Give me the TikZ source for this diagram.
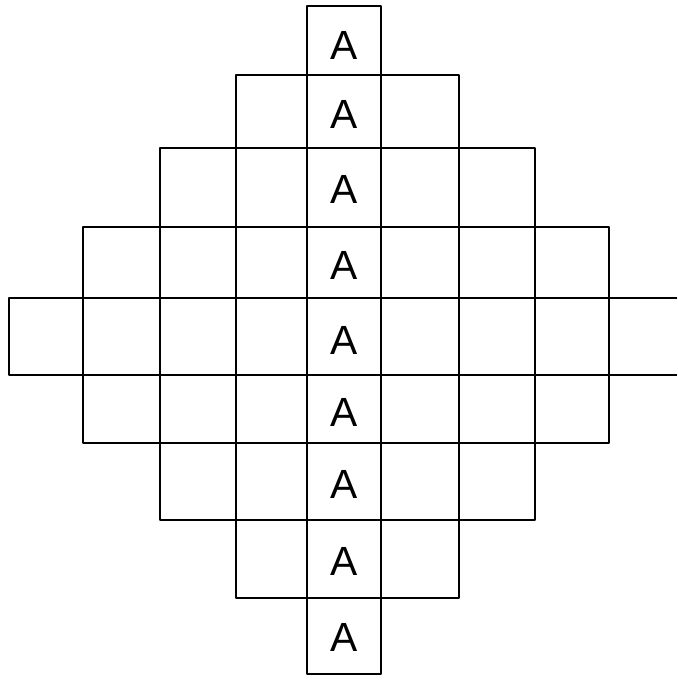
\documentclass[tikz,border=0pt]{standalone}
\usepackage{fontspec}
\setmainfont{Liberation Sans}
\usetikzlibrary{positioning}

\begin{document}
\begin{tikzpicture}[
    x=0.025cm, y=-0.025cm,
    gridline/.style={draw=black, line width=2pt, line join=round},
    letter/.style={font=\fontsize{29}{29}\selectfont, inner sep=0pt},
  ]
    \useasboundingbox (0,0) rectangle (677,682);

    % centre column
    \draw[gridline] (307,6) rectangle (381,674);
    % nested rows of the diamond
    \draw[gridline] (236,75) rectangle (459,598);
    \draw[gridline] (160,148) rectangle (535,520);
    \draw[gridline] (83,227) rectangle (609,443);
    % middle band, open at the right edge
    \draw[gridline] (677,298) -- (9,298) -- (9,375) -- (677,375);

    \node[letter] (a1) at (344,45) {A};
    \node[letter] (a2) at (344,114) {A};
    \node[letter] (a3) at (344,189) {A};
    \node[letter] (a4) at (344,265) {A};
    \node[letter] (a5) at (344,340) {A};
    \node[letter] (a6) at (344,412) {A};
    \node[letter] (a7) at (344,484) {A};
    \node[letter] (a8) at (344,561) {A};
    \node[letter] (a9) at (344,637) {A};
  \end{tikzpicture}
\end{document}
